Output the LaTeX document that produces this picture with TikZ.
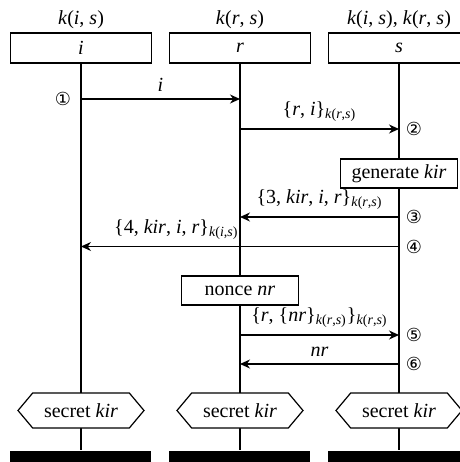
\documentclass[tikz,border=0pt]{standalone}
\usepackage{fontspec}
\setmainfont{Liberation Serif}
\newfontfamily\circfont{DejaVu Sans}
\usetikzlibrary{arrows.meta,shapes.symbols,positioning}
\newcommand\kk[2]{\textit{k}(\textit{#1}, \textit{#2})}
\newcommand\sub[2]{\textsubscript{\textit{k}(\textit{#1},\textit{#2})}}

\begin{document}
\begin{tikzpicture}[x=0.5pt,y=-0.5pt,line width=0.6pt]
        \tikzstyle{actor} = [draw, fill=white, minimum width=70.5pt, minimum height=15pt, inner sep=0pt];
        \tikzstyle{action} = [draw, fill=white, minimum width=58.5pt, minimum height=14.5pt, inner xsep=4pt, inner ysep=0pt];
        \tikzstyle{goal} = [draw, fill=white, shape=signal, signal to=west and east, signal pointer angle=100, minimum width=63pt, minimum height=17.5pt, inner xsep=2pt, inner ysep=0pt];
        \tikzstyle{stopbar} = [fill=black, minimum width=70.5pt, minimum height=6pt, inner sep=0pt];
        \tikzstyle{stepno} = [font=\circfont\small, inner sep=0pt];
        \tikzstyle{msg} = [-{Stealth[length=5pt,width=4.5pt]}];
        \useasboundingbox (0,0) rectangle (460,462);

        \node (ki) at (81,20) {\kk{i}{s}};
        \node (kr) at (240,20) {\kk{r}{s}};
        \node (ks) at (399,20) {\kk{i}{s}, \kk{r}{s}};
        \node [actor] (i) at (81,48) {\textit{i}};
        \node [actor] (r) at (240,48) {\textit{r}};
        \node [actor] (s) at (399,48) {\textit{s}};
        \node [stopbar] (iend) at (81,457) {};
        \node [stopbar] (rend) at (240,457) {};
        \node [stopbar] (send) at (399,457) {};
        \draw (i) -- (iend);
        \draw (r) -- (rend);
        \draw (s) -- (send);

        \node [stepno] (n1) at (63,99) {①};
        \draw [msg] (i |- n1) -- (r |- n1) node [midway,above] {\textit{i}};
        \node [stepno] (n2) at (414,129) {②};
        \draw [msg] (r |- n2) -- (s |- n2) node [midway,above] {\{\textit{r}, \textit{i}\}\sub{r}{s}};
        \node [action] (gen) at (399,173.5) {generate \textit{kir}};
        \node [stepno] (n3) at (414,217) {③};
        \draw [msg] (s |- n3) -- (r |- n3) node [midway,above] {\{3, \textit{kir}, \textit{i}, \textit{r}\}\sub{r}{s}};
        \node [stepno] (n4) at (414,246.5) {④};
        \draw [msg] (s |- n4) -- (i |- n4) node [pos=0.7,above] {\{4, \textit{kir}, \textit{i}, \textit{r}\}\sub{i}{s}};
        \node [action] (nonce) at (240,290.5) {nonce \textit{nr}};
        \node [stepno] (n5) at (414,335) {⑤};
        \draw [msg] (r |- n5) -- (s |- n5) node [midway,above] {\{\textit{r}, \{\textit{nr}\}\sub{r}{s}\}\sub{r}{s}};
        \node [stepno] (n6) at (414,364) {⑥};
        \draw [msg] (s |- n6) -- (r |- n6) node [midway,above] {\textit{nr}};

        \node [goal] (gi) at (81,410.5) {secret \textit{kir}};
        \node [goal] (gr) at (240,410.5) {secret \textit{kir}};
        \node [goal] (gs) at (399,410.5) {secret \textit{kir}};
    \end{tikzpicture}
\end{document}
